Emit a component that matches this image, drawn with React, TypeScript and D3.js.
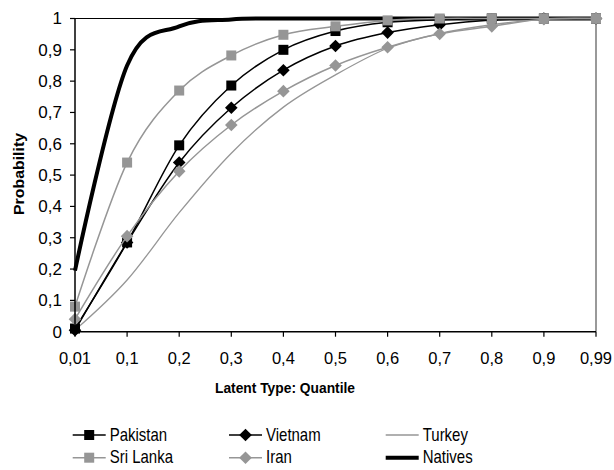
import React from "react";
import * as d3 from "d3";

const categories = ["0,01", "0,1", "0,2", "0,3", "0,4", "0,5", "0,6", "0,7", "0,8", "0,9", "0,99"];
const yTicks = [0, 0.1, 0.2, 0.3, 0.4, 0.5, 0.6, 0.7, 0.8, 0.9, 1];

const pakistan = [0.01, 0.285, 0.595, 0.786, 0.9, 0.96, 0.988, 0.996, 1, 1, 1];
const sriLanka = [0.08, 0.54, 0.77, 0.882, 0.948, 0.975, 0.994, 1, 1, 1, 1];
const vietnam = [0.005, 0.285, 0.54, 0.715, 0.835, 0.912, 0.955, 0.98, 0.995, 1, 1];
const iran = [0.04, 0.305, 0.512, 0.66, 0.768, 0.85, 0.908, 0.951, 0.975, 0.998, 1];
const turkey = [0.005, 0.165, 0.38, 0.57, 0.717, 0.82, 0.905, 0.952, 0.98, 0.997, 1];
const natives = [0.195, 0.85, 0.975, 0.997, 1, 1, 1, 1, 1, 1, 1];

const GRAY = "#969696";
const FONT = "'Liberation Sans', Arial, sans-serif";

type Series = {
  name: string;
  values: number[];
  color: string;
  width: number;
  marker: "square" | "diamond" | null;
};

// draw order
const drawSeries: Series[] = [
  { name: "Natives", values: natives, color: "#000", width: 4, marker: null },
  { name: "Turkey", values: turkey, color: GRAY, width: 1.3, marker: null },
  { name: "Pakistan", values: pakistan, color: "#000", width: 1.5, marker: "square" },
  { name: "Vietnam", values: vietnam, color: "#000", width: 1.5, marker: "diamond" },
  { name: "Iran", values: iran, color: GRAY, width: 1.5, marker: "diamond" },
  { name: "Sri Lanka", values: sriLanka, color: GRAY, width: 1.5, marker: "square" },
];

const legendItems: { s: string; col: number; row: number }[] = [
  { s: "Pakistan", col: 0, row: 0 },
  { s: "Vietnam", col: 1, row: 0 },
  { s: "Turkey", col: 2, row: 0 },
  { s: "Sri Lanka", col: 0, row: 1 },
  { s: "Iran", col: 1, row: 1 },
  { s: "Natives", col: 2, row: 1 },
];

function Marker({ type, x, y, color }: { type: string | null; x: number; y: number; color: string }) {
  if (type === "square") {
    const s = 10;
    return <rect x={x - s / 2} y={y - s / 2} width={s} height={s} fill={color} />;
  }
  if (type === "diamond") {
    const r = 6.3;
    return <path d={`M${x},${y - r}L${x + r},${y}L${x},${y + r}L${x - r},${y}Z`} fill={color} />;
  }
  return null;
}

export default function App() {
  const left = 75;
  const right = 596;
  const top = 18.5;
  const bottom = 331.7;
  const x = d3.scalePoint<string>().domain(categories).range([left, right]);
  const y = d3.scaleLinear().domain([0, 1]).range([bottom, top]);
  const line = d3
    .line<number>()
    .x((_, i) => x(categories[i]) as number)
    .y((d) => y(d))
    .curve(d3.curveCatmullRom.alpha(0));

  const legendCols = [72.7, 229, 385.7];
  const legendRows = [435, 457.7];
  const lineLen = 33;

  const seriesByName: Record<string, Series> = {};
  drawSeries.forEach((s) => (seriesByName[s.name] = s));

  return (
    <svg
      width={614}
      height={470}
      style={{ position: "absolute", left: 0, top: 0, background: "#fff" }}
      fontFamily={FONT}
    >
      <rect x={0} y={0} width={614} height={470} fill="#fff" />
      {/* plot border top & right */}
      <line x1={left} x2={right} y1={top} y2={top} stroke="#000" strokeWidth={1.2} />
      <line x1={right} x2={right} y1={top} y2={bottom} stroke="#555" strokeWidth={1.2} />

      {/* series */}
      {drawSeries.map((s) => (
        <g key={s.name}>
          <path d={line(s.values) || ""} fill="none" stroke={s.color} strokeWidth={s.width} strokeLinejoin="round" />
          {s.marker &&
            s.values.map((v, i) => (
              <Marker key={i} type={s.marker} x={x(categories[i]) as number} y={y(v)} color={s.color} />
            ))}
        </g>
      ))}

      {/* axes */}
      <line x1={left} x2={left} y1={top} y2={bottom} stroke="#000" strokeWidth={1.5} />
      <line x1={left} x2={right} y1={bottom} y2={bottom} stroke="#000" strokeWidth={1.5} />
      {yTicks.map((t) => (
        <g key={t}>
          <line x1={left - 5} x2={left} y1={y(t)} y2={y(t)} stroke="#000" strokeWidth={1.2} />
          <text x={62} y={y(t)} dy="0.35em" textAnchor="end" fontSize={17} fill="#000">
            {String(t).replace(".", ",")}
          </text>
        </g>
      ))}
      {categories.map((c) => (
        <g key={c}>
          <line x1={x(c)} x2={x(c)} y1={bottom} y2={bottom + 5} stroke="#000" strokeWidth={1.2} />
          <text x={x(c)} y={363.5} textAnchor="middle" fontSize={16.5} fill="#000">
            {c}
          </text>
        </g>
      ))}

      {/* axis titles */}
      <text x={285} y={393} textAnchor="middle" fontSize={13.8} fontWeight="bold" fill="#000">
        Latent Type: Quantile
      </text>
      <text
        transform={`translate(24,174) rotate(-90)`}
        textAnchor="middle"
        fontSize={14.5}
        fontWeight="bold"
        fill="#000"
        textLength={82}
        lengthAdjust="spacingAndGlyphs"
      >
        Probability
      </text>

      {/* legend */}
      {legendItems.map((it) => {
        const s = seriesByName[it.s];
        const lx = legendCols[it.col];
        const ly = legendRows[it.row];
        return (
          <g key={it.s}>
            <line x1={lx} x2={lx + lineLen} y1={ly} y2={ly} stroke={s.color} strokeWidth={s.width} />
            {s.marker && <Marker type={s.marker} x={lx + lineLen / 2} y={ly} color={s.color} />}
            <text
              transform={`translate(${lx + lineLen + 4},${ly + 5.6}) scale(1,1.2)`}
              fontSize={15}
              fill="#000"
            >
              {s.name}
            </text>
          </g>
        );
      })}
    </svg>
  );
}
